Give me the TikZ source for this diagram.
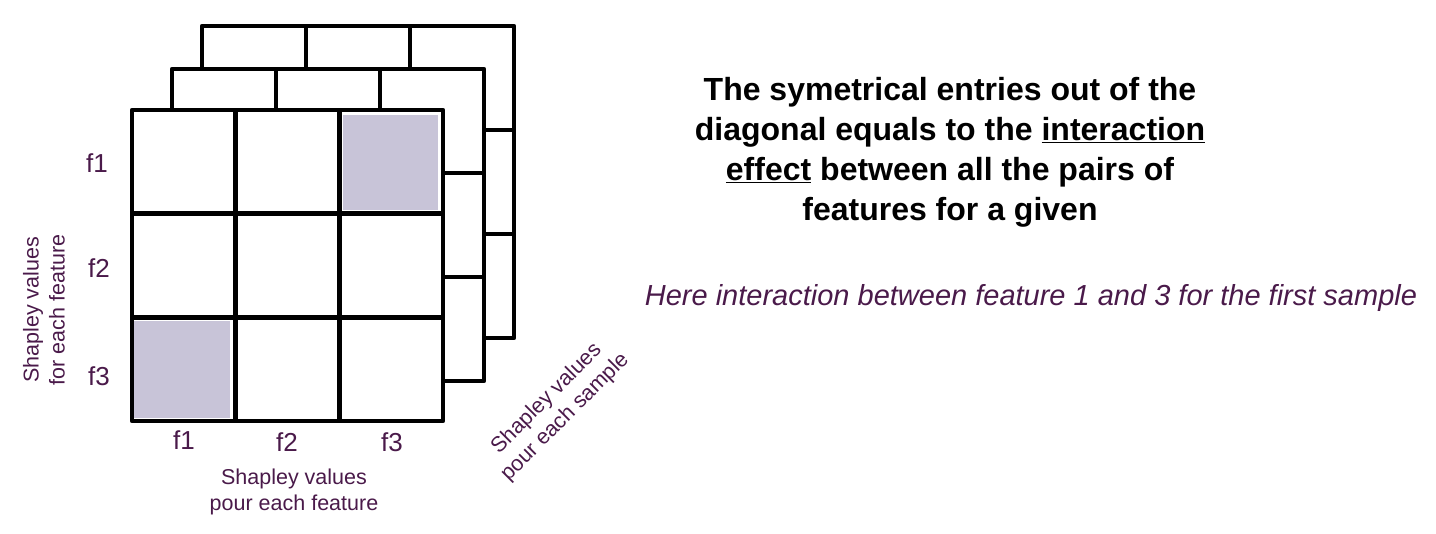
\documentclass[tikz,border=0pt]{standalone}
\usepackage{fontspec}
\setmainfont{Liberation Sans}
\definecolor{txt}{HTML}{4A1A4A}
\definecolor{cellfill}{HTML}{C8C4D8}
\begin{document}
\begin{tikzpicture}[x=1pt,y=-1pt,
  gl/.style={line width=4.5pt,line join=round},
  lab/.style={text=txt,font=\fontsize{26}{30}\selectfont},
  sm/.style={text=txt,font=\fontsize{21.5}{26}\selectfont,align=center}]
\useasboundingbox (0,0) rectangle (1436,534);
\foreach \ox/\oy in {202/26,172/69}{
  \fill[white] (\ox,\oy) rectangle ++(312,312);
  \foreach \i in {1,2}{
    \draw[gl] (\ox+\i*104,\oy) -- (\ox+\i*104,\oy+312);
    \draw[gl] (\ox,\oy+\i*104) -- (\ox+312,\oy+\i*104);}
  \draw[gl] (\ox,\oy) rectangle ++(312,312);
}
\fill[white] (132,110) rectangle (443,421);
\fill[cellfill] (343,115) rectangle (438,210);
\fill[cellfill] (134,321) rectangle (230,418);
\foreach \i in {1,2}{
  \draw[gl] (132+\i*103.7,110) -- (132+\i*103.7,421);
  \draw[gl] (132,110+\i*103.7) -- (443,110+\i*103.7);}
\draw[gl] (132,110) rectangle (443,421);
\node[lab] (r1) at (97,163) {f1};
\node[lab] (r2) at (99,268) {f2};
\node[lab] (r3) at (99,376) {f3};
\node[lab] (c1) at (184,440) {f1};
\node[lab] (c2) at (287,442) {f2};
\node[lab] (c3) at (392,442) {f3};
\node[sm] (yl) at (44,310) [rotate=90] {Shapley values\\for each feature};
\node[sm] (xl) at (294,492) {Shapley values\\pour each feature};
\node[sm,rotate=45] (zl) at (556,408) {Shapley values\\pour each sample};
\node[font=\bfseries\fontsize{32}{40}\selectfont,align=center] (t) at (950,152)
  {The symetrical entries out of the\\diagonal equals to the \underline{interaction}\\\underline{effect} between all the pairs of\\features for a given};
\node[text=txt,font=\itshape\fontsize{29}{34}\selectfont] (h) at (1031,298)
  {Here interaction between feature 1 and 3 for the first sample};
\end{tikzpicture}
\end{document}
